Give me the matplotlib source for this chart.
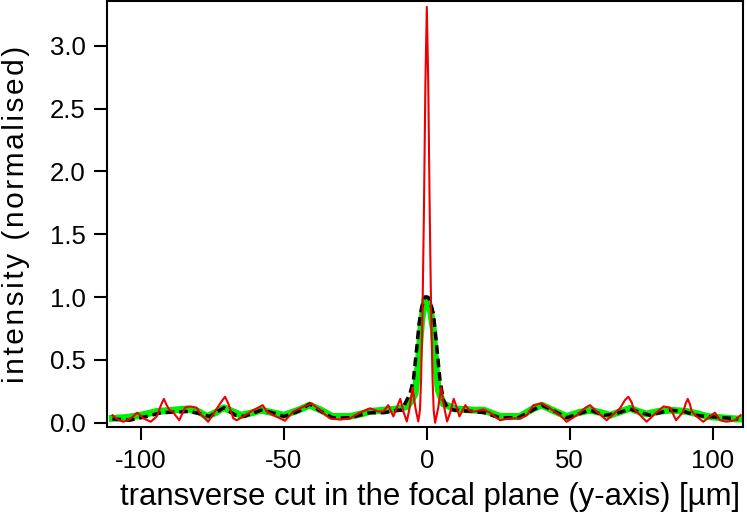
import numpy as np
import matplotlib
matplotlib.use("Agg")
import matplotlib.pyplot as plt

# red curve (sharp focus)
red_x = [-110.0, -108.5, -106.2, -103.8, -101.3, -99.2, -96.6, -94.5, -93.0, -92.0,
         -91.0, -90.0, -89.0, -86.6, -84.6, -82.9, -80.5, -79.4, -76.5, -74.1,
         -71.8, -70.6, -69.4, -67.7, -66.5, -64.2, -60.7, -57.4, -56.0, -53.7,
         -49.6, -46.7, -43.2, -40.3, -37.4, -33.9, -30.4, -26.9, -23.4, -19.9,
         -17.0, -15.2, -13.5, -11.7, -10.5, -9.3, -8.2, -7.0, -6.0, -5.0,
         -4.0, -3.0, -2.4, -2.0, -1.5, -1.0, -0.5, 0.0, 0.5, 1.0,
         1.5, 2.0, 2.4, 2.9, 4.0, 5.0, 6.1, 7.1, 8.3, 9.4,
         10.5, 11.4, 13.5, 15.1, 16.9, 19.8, 22.1, 25.6, 29.1, 32.6,
         35.0, 37.3, 40.2, 43.1, 46.6, 48.9, 52.5, 55.5, 57.1, 59.4,
         62.9, 67.6, 69.3, 70.5, 71.7, 72.3, 76.9, 79.3, 82.8, 85.1,
         87.2, 89.8, 90.5, 91.3, 92.0, 92.7, 94.4, 96.7, 99.1, 100.8,
         102.6, 104.9, 107.8, 109.8]
red_y = [0.06, 0.03, 0.008, 0.03, 0.08, 0.035, 0.008, 0.05, 0.14, 0.19,
         0.14, 0.10, 0.09, 0.02, 0.12, 0.13, 0.12, 0.075, 0.008, 0.09,
         0.17, 0.207, 0.15, 0.035, 0.02, 0.05, 0.10, 0.14, 0.09, 0.06,
         0.016, 0.09, 0.127, 0.154, 0.10, 0.035, 0.025, 0.035, 0.08, 0.115,
         0.09, 0.09, 0.14, 0.05, 0.12, 0.19, 0.09, 0.01, 0.12, 0.28,
         0.12, 0.01, 0.10, 0.35, 0.90, 1.70, 2.70, 3.31, 2.70, 1.70,
         0.90, 0.35, 0.10, 0.0, 0.12, 0.28, 0.12, 0.01, 0.09, 0.19,
         0.12, 0.05, 0.14, 0.09, 0.09, 0.106, 0.08, 0.02, 0.035, 0.035,
         0.06, 0.14, 0.154, 0.115, 0.06, 0.008, 0.06, 0.12, 0.14, 0.09,
         0.02, 0.115, 0.18, 0.207, 0.16, 0.115, 0.008, 0.06, 0.13, 0.12,
         0.02, 0.09, 0.15, 0.19, 0.15, 0.09, 0.05, 0.008, 0.05, 0.08,
         0.02, 0.008, 0.02, 0.061]

# green curve (thick)
green_x = [-110, -106, -102.6, -98, -94.5, -88.7, -84, -80, -76.9, -74,
           -71, -68, -65, -61, -58, -54, -50, -45, -41, -37,
           -33, -27, -23, -20, -15, -10, -7, -5.5, -4.1, -3.0,
           -1.8, -0.6, 0.0, 1.1, 2.3, 3.1, 4.0, 5.8, 9.9, 16.9,
           20, 25.6, 32.6, 37, 40.2, 44, 48.9, 53, 57.1, 61,
           64.1, 68, 71.1, 74, 76.9, 81, 85.1, 90.9, 95, 98,
           103, 108.3, 110]
green_y = [0.035, 0.04, 0.05, 0.07, 0.09, 0.10, 0.11, 0.09, 0.05, 0.08,
           0.12, 0.09, 0.06, 0.08, 0.10, 0.08, 0.06, 0.10, 0.14, 0.10,
           0.05, 0.05, 0.07, 0.09, 0.10, 0.11, 0.13, 0.17, 0.23, 0.47,
           0.82, 0.99, 0.99, 0.92, 0.74, 0.47, 0.26, 0.15, 0.11, 0.10,
           0.10, 0.05, 0.05, 0.11, 0.14, 0.10, 0.05, 0.08, 0.10, 0.08,
           0.06, 0.09, 0.115, 0.09, 0.07, 0.09, 0.10, 0.09, 0.07, 0.05,
           0.04, 0.03, 0.03]

# black dashed curve
black_x = [-110, -104, -98, -93, -88, -83, -79, -76, -71, -67,
           -64, -58, -54, -50, -45, -41, -37, -33, -27, -20,
           -15, -10, -8.8, -5.9, -4.7, -3.5, -2.7, -1.8, -0.6, 0.0,
           0.8, 2.3, 3.5, 4.6, 5.8, 7.5, 9.9, 16, 20, 25.6,
           32, 37, 40.2, 44, 48.9, 53, 57.1, 62, 66, 71,
           75, 78, 85, 90, 94, 98, 104, 109]
black_y = [0.03, 0.02, 0.05, 0.08, 0.085, 0.09, 0.07, 0.05, 0.12, 0.06,
           0.05, 0.10, 0.08, 0.05, 0.09, 0.15, 0.09, 0.04, 0.04, 0.08,
           0.08, 0.10, 0.10, 0.23, 0.34, 0.60, 0.79, 0.92, 1.0, 1.0,
           0.99, 0.87, 0.60, 0.34, 0.18, 0.11, 0.10, 0.09, 0.08, 0.04,
           0.04, 0.10, 0.14, 0.10, 0.04, 0.07, 0.10, 0.06, 0.07, 0.11,
           0.08, 0.06, 0.10, 0.09, 0.06, 0.05, 0.04, 0.03]

x_ticks = [-100, -50, 0, 50, 100]
y_ticks = [0.0, 0.5, 1.0, 1.5, 2.0, 2.5, 3.0]

plt.rcParams['font.family'] = ['Liberation Sans', 'DejaVu Sans']
plt.rcParams['axes.unicode_minus'] = False

fig = plt.figure(figsize=(7.47, 5.13), dpi=100)
ax = fig.add_axes([0.1432, 0.1676, 0.851, 0.8304])

ax.plot(green_x, green_y, color='#00ee00', lw=5, solid_joinstyle='round', zorder=2)
ax.plot(black_x, black_y, color='black', lw=2.5, dashes=(2.5, 1.4), zorder=3)
ax.plot(red_x, red_y, color='#ee0000', lw=1.5, zorder=4)

ax.set_xlim(-111.9, 110.5)
ax.set_ylim(-0.034, 3.357)
ax.set_xticks(x_ticks)
ax.set_xticklabels([str(t) for t in x_ticks])
ax.set_yticks(y_ticks)
ax.set_yticklabels(['%.1f' % t for t in y_ticks])

for s in ax.spines.values():
    s.set_linewidth(1.5)
ax.tick_params(direction='out', length=9.5, width=1.5, labelsize=18.5, pad=6)

ax.set_xlabel('transverse cut in the focal plane (y-axis) [µm]', fontsize=22.4)
ax.xaxis.set_label_coords(0.509, -0.13)
ax.xaxis.label.set_va('top')
# the original label is drawn with wider letter spacing
ylab = '\u200a'.join('intensity (normalised)')
ax.set_ylabel(ylab, fontsize=21.5, labelpad=14)

fig.savefig('out.png', dpi=100)
